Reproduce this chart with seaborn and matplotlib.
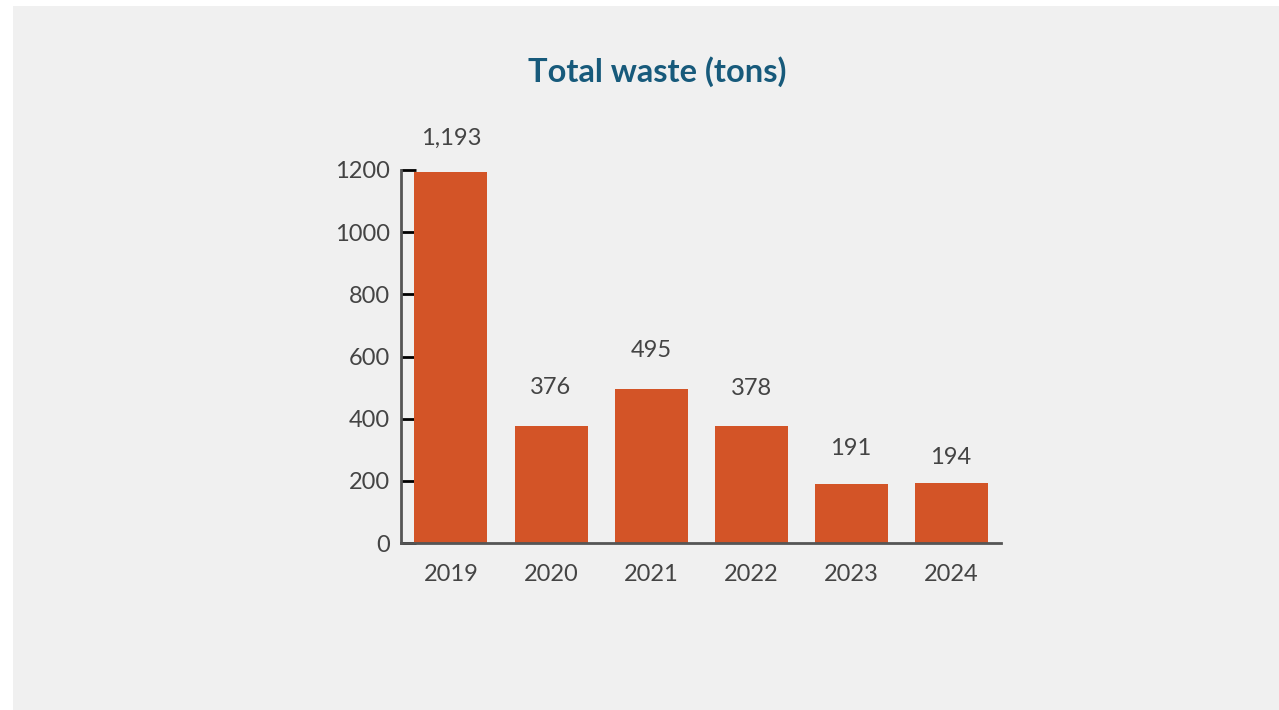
import matplotlib
matplotlib.use("Agg")
import matplotlib.pyplot as plt
from matplotlib.patches import Rectangle
import seaborn as sns
import pandas as pd

years = ["2019", "2020", "2021", "2022", "2023", "2024"]
waste_tons = [1193, 376, 495, 378, 191, 194]
value_labels = ["1,193", "376", "495", "378", "191", "194"]
y_ticks = [0, 200, 400, 600, 800, 1000, 1200]

# vertical gap (points) between each bar top and its value label
label_gaps = [24.5, 28, 28, 27, 25, 18]

sns.set_style("white")
plt.rcParams["font.family"] = ["Lato", "DejaVu Sans"]

BAR = "#d35427"
PANEL = "#f0f0f0"
TEXT = "#444444"
TITLE = "#175a7b"

df = pd.DataFrame({"year": years, "tons": waste_tons})

fig = plt.figure(figsize=(12.79, 7.10), dpi=100)
fig.patch.set_facecolor("white")
# light grey card behind the chart
card = Rectangle((13 / 1279, 0), 1 - 13 / 1279, 1 - 6 / 710,
                 transform=fig.transFigure, facecolor=PANEL,
                 edgecolor="none", zorder=-10)
fig.add_artist(card)

ax = fig.add_axes([401 / 1279, (710 - 543) / 710, 600 / 1279, 373 / 710])
ax.set_facecolor("none")

sns.barplot(data=df, x="year", y="tons", color=BAR, width=0.73,
            saturation=1, linewidth=0, edgecolor="none", ax=ax, zorder=2)

ax.set_xlim(-0.5, 5.5)
ax.set_ylim(0, 1200)
ax.set_yticks(y_ticks)
ax.set_xlabel("")
ax.set_ylabel("")

for s in ["top", "right"]:
    ax.spines[s].set_visible(False)
for s in ["left", "bottom"]:
    ax.spines[s].set_color("#555555")
    ax.spines[s].set_linewidth(2)
ax.spines["bottom"].set_zorder(3)

ax.tick_params(axis="y", left=True, direction="in", length=11, width=2,
               color="black", labelsize=17, labelcolor=TEXT, pad=8)
ax.tick_params(axis="x", bottom=False, length=0, labelsize=17,
               labelcolor=TEXT, pad=15)

for i, (v, lab, gap) in enumerate(zip(waste_tons, value_labels, label_gaps)):
    ax.annotate(lab, (i, v), xytext=(0, gap), textcoords="offset points",
                ha="center", va="center", fontsize=17, color=TEXT)

fig.text(657 / 1279, 1 - 72 / 710, "Total waste (tons)", ha="center",
         va="center", fontsize=23.5, fontweight="bold", color=TITLE)

fig.savefig("out.png", dpi=100)
